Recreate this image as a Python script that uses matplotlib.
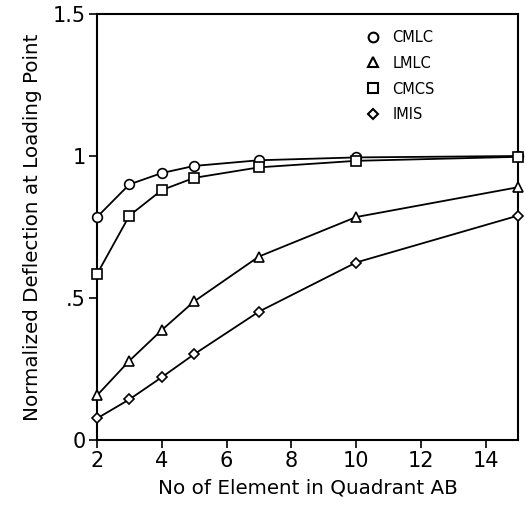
import matplotlib
matplotlib.use("Agg")
import matplotlib.pyplot as plt
from matplotlib.lines import Line2D

elements = [2, 3, 4, 5, 7, 10, 15]
cmlc = [0.785, 0.90, 0.94, 0.965, 0.985, 0.995, 1.0]
lmlc = [0.157, 0.279, 0.387, 0.488, 0.646, 0.785, 0.89]
cmcs = [0.584, 0.79, 0.88, 0.923, 0.96, 0.983, 0.997]
imis = [0.076, 0.143, 0.221, 0.302, 0.452, 0.625, 0.79]

series = [("CMLC", cmlc, "o"), ("LMLC", lmlc, "^"), ("CMCS", cmcs, "s"), ("IMIS", imis, "D")]

xticks = [2, 4, 6, 8, 10, 12, 14]
yticks = [0, 0.5, 1, 1.5]
yticklabels = ["0", ".5", "1", "1.5"]

plt.rcParams['font.family'] = ['DejaVu Sans']
fig = plt.figure(figsize=(5.26, 5.07), dpi=100)
ax = fig.add_axes([97/526, 1-440/507, 421/526, 426/507])

msizes = {"o": 7, "^": 7, "s": 6.5, "D": 5.5}
handles = []
for name, vals, m in series:
    ax.plot(elements, vals, color="black", lw=1.3, marker=m, ms=msizes[m],
            mfc="white", mec="black", mew=1.2, clip_on=False, zorder=3)
    handles.append(Line2D([], [], ls="", marker=m, ms=msizes[m], mfc="white",
                          mec="black", mew=1.5, label=name))

ax.set_xlim(2, 15)
ax.set_ylim(0, 1.5)
ax.set_xticks(xticks)
ax.set_xticklabels([str(t) for t in xticks], fontsize=15)
ax.set_yticks(yticks)
ax.set_yticklabels(yticklabels, fontsize=15)
ax.tick_params(direction="out", length=6, width=1.2, pad=2)
for s in ax.spines.values():
    s.set_linewidth(1.5)

ax.set_xlabel("No of Element in Quadrant AB", fontsize=14.3, labelpad=5)
ax.set_ylabel("Normalized Deflection at Loading Point", fontsize=14.3, labelpad=8)

ax.legend(handles=handles, loc="upper left", bbox_to_anchor=(0.625, 0.977),
          frameon=False, fontsize=10.5, handlelength=1.0, handletextpad=0.8,
          labelspacing=0.75, borderaxespad=0)

fig.savefig("out.png", dpi=100)
